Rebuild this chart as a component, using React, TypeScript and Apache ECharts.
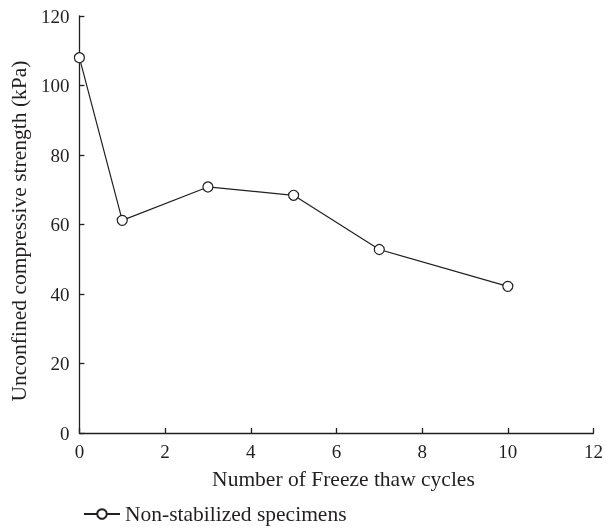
import React, { useEffect, useRef } from "react";
import * as echarts from "echarts";

const cycles = [0, 1, 3, 5, 7, 10];
const strength = [108, 61.2, 70.8, 68.4, 52.8, 42.2];
const seriesName = "Non-stabilized specimens";
const xTitle = "Number of Freeze thaw cycles";
const yTitle = "Unconfined compressive strength (kPa)";

const INK = "#231f20";
const FONT = "Liberation Serif";

export default function App() {
  const ref = useRef<HTMLDivElement>(null);
  useEffect(() => {
    if (!ref.current) return;
    const chart = echarts.init(ref.current, undefined, { renderer: "svg" });
    chart.setOption({
      animation: false,
      textStyle: { fontFamily: FONT, color: INK },
      grid: { left: 79, right: 11, top: 16, bottom: 95 },
      legend: {
        left: 78,
        top: 498,
        itemWidth: 36,
        itemHeight: 12,
        itemGap: 10,
        textStyle: { fontFamily: FONT, fontSize: 21.5, color: INK },
        data: [{ name: seriesName }],
      },
      xAxis: {
        type: "value",
        min: 0,
        max: 12,
        interval: 2,
        name: xTitle,
        nameLocation: "middle",
        nameGap: 35,
        nameTextStyle: { fontFamily: FONT, fontSize: 21.5, color: INK, padding: [0, 0, 0, 14] },
        axisLine: { lineStyle: { color: INK, width: 1.3 } },
        axisTick: { inside: true, length: 5, lineStyle: { color: INK, width: 1.3 } },
        axisLabel: { fontFamily: FONT, fontSize: 19, color: INK, margin: 9 },
        splitLine: { show: false },
      },
      yAxis: {
        type: "value",
        min: 0,
        max: 120,
        interval: 20,
        name: yTitle,
        nameLocation: "middle",
        nameGap: 46,
        nameTextStyle: { fontFamily: FONT, fontSize: 21.5, color: INK, padding: [0, 13, 0, 0] },
        axisLine: { show: true, lineStyle: { color: INK, width: 1.3 } },
        axisTick: { show: true, inside: true, length: 5, lineStyle: { color: INK, width: 1.3 } },
        axisLabel: { fontFamily: FONT, fontSize: 19, color: INK, margin: 10 },
        splitLine: { show: false },
      },
      series: [
        {
          name: seriesName,
          type: "line",
          data: cycles.map((c, i) => [c, strength[i]]),
          symbol: "circle",
          symbolSize: 10,
          showAllSymbol: true,
          lineStyle: { color: INK, width: 1.2 },
          itemStyle: { color: "#ffffff", borderColor: INK, borderWidth: 1.2 },
          emphasis: { disabled: true },
        },
      ],
    });
    return () => chart.dispose();
  }, []);
  return <div ref={ref} style={{ position: "fixed", left: 0, top: 0, width: 606, height: 528 }} />;
}
